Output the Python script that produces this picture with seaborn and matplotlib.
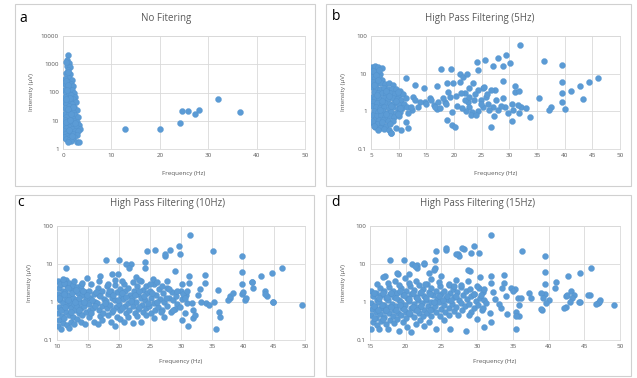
import matplotlib
matplotlib.use("Agg")
import matplotlib.pyplot as plt
import seaborn as sns
import pandas as pd
from matplotlib.patches import Rectangle
from matplotlib.ticker import NullLocator

# (frequency Hz, intensity uV) pairs, one list per panel
a_points = [
    (1.0, 2100), (0.9, 1400), (1.2, 1100), (0.8, 900), (1.4, 800), (1.1, 650), (0.6, 500),
    (1.5, 450), (0.9, 380), (1.3, 330), (0.5, 300), (1.8, 280), (1.0, 240), (0.4, 200),
    (1.6, 200), (2.1, 170), (0.8, 160), (1.3, 130), (0.3, 120), (1.9, 120), (2.3, 100),
    (0.7, 95), (1.2, 85), (1.7, 80), (2.5, 70), (0.4, 70), (2.1, 60), (0.9, 55), (1.4, 50),
    (0.3, 45), (2.6, 45), (1.9, 40), (0.7, 38), (1.2, 32), (2.3, 30), (0.4, 28), (1.6, 26),
    (2.8, 25), (0.9, 22), (2.1, 20), (0.3, 18), (1.3, 17), (2.5, 16), (3.0, 14), (0.7, 14),
    (1.8, 13), (0.4, 11), (1.1, 10), (2.2, 10), (2.9, 9), (0.8, 8.5), (1.5, 8), (3.3, 7),
    (0.3, 7), (2.0, 7), (2.6, 6), (1.2, 6), (0.6, 5.5), (3.6, 5.2), (1.8, 5), (0.2, 4.5),
    (2.4, 4.5), (3.1, 4.2), (1.0, 4.2), (1.5, 3.6), (0.5, 3.5), (2.1, 3.4), (2.8, 3.2),
    (0.9, 3), (1.4, 2.7), (0.3, 2.6), (2.3, 2.6), (1.9, 2.3), (0.7, 2.2), (1.2, 2.0),
    (1.6, 1.9), (1.0, 1.7), (2.9, 1.7), (3.4, 1.7),
    (0.6, 1200), (1.0, 550), (0.6, 250), (1.1, 180), (0.9, 120), (1.5, 65), (0.6, 60),
    (2.0, 30), (1.0, 26), (1.7, 18), (0.6, 9), (2.4, 8), (1.4, 11), (1.9, 3.0), (1.2, 4.8),
    (12.8, 5), (20, 5), (24.2, 8), (24.5, 22), (25.8, 23), (27.2, 17), (28.2, 24),
    (32, 57), (36.5, 21),
]

b_points = [
    # dense block 5-11 Hz
    (5.2, 15), (5.5, 13), (5.8, 16), (6.3, 15), (6.9, 14), (5.3, 10), (6.0, 11), (6.7, 10),
    (5.1, 8), (5.7, 7.5), (6.4, 8), (7.0, 7), (5.4, 6), (6.1, 5.5), (6.8, 5.8), (7.5, 5.2),
    (8.2, 5.5), (9.0, 5), (5.2, 4.5), (5.9, 4.2), (6.6, 4), (7.3, 4.1), (8.0, 4), (8.8, 3.8),
    (9.6, 4), (10.3, 3.5), (5.5, 3.2), (6.2, 3), (7.0, 3.1), (7.7, 2.9), (8.5, 3), (9.3, 2.8),
    (10.0, 2.7), (10.8, 2.8), (5.1, 2.4), (5.8, 2.2), (6.5, 2.3), (7.3, 2.2), (8.1, 2.1),
    (8.9, 2.3), (9.7, 2.1), (10.5, 2.0), (11.3, 2.2), (5.4, 1.8), (6.1, 1.7), (6.9, 1.6),
    (7.6, 1.7), (8.4, 1.6), (9.2, 1.7), (10.0, 1.5), (10.9, 1.6), (5.2, 1.35), (5.9, 1.3),
    (6.7, 1.25), (7.4, 1.3), (8.2, 1.2), (9.0, 1.3), (9.8, 1.15), (10.6, 1.2), (11.5, 1.3),
    (5.5, 1.0), (6.3, 0.95), (7.1, 1.0), (7.9, 0.93), (8.7, 0.98), (9.5, 0.9), (10.3, 0.95),
    (5.2, 0.78), (6.0, 0.75), (6.8, 0.8), (7.6, 0.72), (8.4, 0.76), (9.2, 0.7), (10.0, 0.74),
    (5.6, 0.6), (6.4, 0.58), (7.2, 0.6), (8.0, 0.56), (8.9, 0.55), (5.3, 0.48), (6.1, 0.45),
    (6.9, 0.47), (7.7, 0.42), (5.8, 0.38), (6.6, 0.36), (7.4, 0.34), (8.2, 0.32), (9.5, 0.37),
    (8.6, 0.27), (5.4, 12), (6.5, 12.5), (5.9, 9), (6.2, 6.8), (5.6, 5), (7.8, 3.5), (9.9, 3.2),
    (8.3, 2.5), (6.0, 2.7), (7.0, 1.9), (9.5, 1.9), (10.2, 1.2), (8.6, 1.4), (6.6, 1.1),
    (7.8, 0.85), (9.9, 0.85), (5.1, 0.55), (7.0, 0.52), (8.5, 0.45), (6.3, 0.32), (5.5, 0.4),
    # scattered points
    (32.0, 57), (36.3, 22), (39.5, 16.6), (39.5, 6.1), (39.5, 3.0), (39.5, 1.8), (40.1, 1.15),
    (41.1, 3.5), (42.8, 4.8), (44.4, 5.9), (46.0, 7.9), (43.4, 2.1), (35.4, 2.26), (37.5, 1.3),
    (37.2, 1.09), (33.7, 0.69), (32.1, 1.33), (31.8, 0.89), (30.5, 0.56), (30.1, 19),
    (29.4, 31), (28.0, 26), (28.9, 16), (27.1, 16), (28.9, 6.5), (27.4, 3.7), (31.0, 4.7),
    (31.0, 3.3), (31.8, 3.5), (28.9, 2.2), (30.4, 1.6), (30.7, 1.1), (29.8, 0.89), (26.6, 0.39),
    (11.4, 7.5), (13.0, 5.0), (14.6, 4.1), (17.7, 13), (19.5, 13), (16.9, 4.7), (18.7, 5.8),
    (19.9, 5.5), (21.1, 10), (21.6, 8.3), (22.3, 10), (24.1, 21), (24.4, 12.5), (25.6, 23),
    (15.7, 2.2), (16.3, 1.5), (16.9, 1.13), (18.4, 1.8), (19.6, 0.97), (18.7, 0.59),
    (19.6, 0.43), (20.2, 0.39), (22.0, 3.0), (22.6, 1.8), (23.2, 0.97), (25.3, 4.1),
    (14.8, 1.8), (13.9, 1.8), (12.6, 2.4), (12.4, 1.1), (11.3, 0.52), (11.6, 0.37),
    (10.5, 0.32), (8.6, 0.26), (21.0, 6.1), (21.3, 3.0), (21.9, 2.0), (22.8, 4.1), (22.8, 2.4),
    (23.4, 5.5), (23.7, 2.0), (24.3, 3.7), (24.9, 2.0), (25.5, 4.5), (25.8, 2.4), (26.1, 1.6),
    (26.7, 3.7), (27.0, 1.3), (22.8, 1.3), (22.2, 1.0), (23.1, 0.8), (24.3, 1.0), (25.2, 1.3),
    (26.4, 1.1), (27.9, 1.1), (29.2, 1.3), (19.2, 2.4), (18.6, 1.6), (18.0, 2.2), (17.1, 1.8),
    (16.5, 1.3), (15.9, 2.0), (15.0, 1.6), (13.5, 1.3), (12.9, 2.0), (12.2, 1.3), (11.6, 0.9),
    (17.5, 1.2), (20.5, 1.4), (21.5, 1.2), (23.8, 2.8), (24.8, 1.6), (26.0, 2.8), (27.5, 2.0),
    (28.5, 1.4), (20.3, 2.5), (19.0, 3.2), (24.0, 0.8), (27.3, 0.75), (31.5, 1.5), (33.0, 1.2),
]

c_points = [
    # dense band 10-31 Hz
    (10.2, 3.5), (10.4, 2.4), (10.1, 1.6), (10.5, 1.1), (10.3, 0.75), (10.1, 0.5), (10.4, 0.33),
    (10.2, 0.24), (10.8, 3.0), (11.0, 2.0), (10.7, 1.4), (10.9, 0.95), (11.1, 0.65),
    (10.8, 0.42), (11.0, 0.28), (10.7, 0.2), (11.4, 3.8), (11.6, 2.6), (11.3, 1.8), (11.5, 1.2),
    (11.7, 0.85), (11.4, 0.55), (11.2, 0.37), (11.6, 0.25), (12.0, 3.2), (12.2, 2.2),
    (11.9, 1.5), (12.1, 1.0), (12.3, 0.7), (12.0, 0.46), (12.2, 0.3), (11.9, 0.21), (12.6, 2.8),
    (12.8, 1.9), (12.5, 1.3), (12.7, 0.9), (12.9, 0.6), (12.6, 0.4), (12.8, 0.27), (13.2, 2.5),
    (13.4, 1.7), (13.1, 1.15), (13.3, 0.8), (13.5, 0.52), (13.2, 0.35), (13.8, 2.2), (14.0, 1.5),
    (13.7, 1.0), (13.9, 0.68), (14.1, 0.45), (13.8, 0.3), (14.5, 1.8), (14.7, 1.2), (14.4, 0.8),
    (14.6, 0.55), (14.5, 0.26), (15.2, 2.0), (15.4, 1.3), (15.1, 0.9), (15.3, 0.6), (15.2, 0.4),
    (15.9, 1.6), (16.1, 1.0), (15.8, 0.7), (16.0, 0.3), (16.6, 2.4), (16.8, 1.5), (16.5, 0.95),
    (16.7, 0.62), (16.9, 0.42), (16.6, 0.26), (17.3, 1.9), (17.5, 1.2), (17.2, 0.8), (17.4, 0.5),
    (17.3, 0.33), (18.0, 2.6), (18.2, 1.6), (17.9, 1.05), (18.1, 0.7), (18.3, 0.45), (18.7, 2.0),
    (18.9, 1.3), (18.6, 0.85), (18.8, 0.55), (18.7, 0.3), (19.4, 2.8), (19.6, 1.8), (19.3, 1.1),
    (19.5, 0.72), (19.7, 0.4), (19.4, 0.24), (20.1, 2.2), (20.3, 1.4), (20.0, 0.9), (20.2, 0.6),
    (20.1, 0.35), (20.8, 3.0), (21.0, 1.9), (20.7, 1.2), (20.9, 0.78), (21.1, 0.5), (20.8, 0.3),
    (21.5, 2.4), (21.7, 1.5), (21.4, 0.95), (21.6, 0.62), (21.5, 0.4), (22.2, 3.3), (22.4, 2.0),
    (22.1, 1.25), (22.3, 0.8), (22.5, 0.5), (22.2, 0.28), (22.9, 2.6), (23.1, 1.6), (22.8, 1.0),
    (23.0, 0.65), (22.9, 0.42), (23.6, 3.5), (23.8, 2.1), (23.5, 1.3), (23.7, 0.85), (23.9, 0.55),
    (23.6, 0.3), (24.3, 2.7), (24.5, 1.7), (24.2, 1.1), (24.4, 0.7), (24.3, 0.45), (25.0, 2.0),
    (25.2, 1.3), (24.9, 0.8), (25.1, 0.5), (25.7, 2.9), (25.9, 1.5), (25.6, 0.95), (25.8, 0.6),
    (25.7, 0.38), (26.4, 2.2), (26.6, 1.2), (26.3, 0.75), (27.1, 1.7), (27.3, 1.0), (27.0, 0.62),
    (27.2, 0.4), (27.8, 2.4), (28.0, 1.3), (27.7, 0.8), (28.5, 1.8), (28.7, 1.1), (28.4, 0.55),
    (29.2, 1.4), (29.4, 0.9), (29.1, 0.65), (30.0, 2.0), (30.2, 1.2), (29.9, 0.75), (30.8, 1.5),
    (31.0, 0.95), (30.7, 0.5),
    # extra fill in the densest part
    (10.5, 2.9), (10.3, 1.3), (10.6, 0.6), (11.2, 3.2), (11.1, 1.6), (11.3, 0.72), (11.8, 2.4),
    (11.7, 1.1), (12.4, 1.7), (12.3, 0.55), (13.0, 2.1), (12.9, 1.0), (13.6, 1.3), (13.5, 0.62),
    (14.2, 2.0), (14.3, 1.0), (14.9, 1.5), (15.6, 1.15), (15.5, 0.5), (16.3, 1.8), (16.2, 0.8),
    (17.0, 1.4), (17.7, 0.95), (18.4, 1.9), (19.1, 1.5), (19.0, 0.62), (19.9, 1.1), (20.5, 1.7),
    (20.5, 0.7), (21.2, 1.35), (21.9, 1.05), (22.6, 1.5), (23.3, 1.9), (23.3, 0.75), (24.0, 1.4),
    (24.7, 0.95), (25.4, 1.7), (26.1, 1.0), (26.8, 0.55), (27.5, 1.3),
    # scattered points
    (31.5, 57), (35.1, 22), (39.8, 16), (39.8, 6.2), (39.8, 2.9), (39.8, 1.6), (40.4, 1.15),
    (41.4, 3.4), (42.9, 4.7), (44.7, 5.8), (46.3, 7.9), (44.9, 1.03), (49.5, 0.84), (43.5, 2.0),
    (43.8, 1.4), (37.9, 1.25), (37.6, 1.1), (36.3, 0.41), (35.6, 0.19), (35.4, 1.03), (34.1, 0.95),
    (33.8, 5.0), (33.8, 3.2), (31.3, 4.7), (31.3, 3.2), (29.8, 17.8), (29.6, 30), (28.3, 24),
    (27.4, 16), (27.4, 18), (25.8, 24), (24.5, 22), (29.0, 6.5), (27.7, 3.5), (30.1, 2.9),
    (30.3, 1.6), (31.7, 0.94), (32.0, 0.38), (31.2, 0.23), (30.1, 0.34), (28.7, 0.62), (25.5, 4.1),
    (24.2, 7.9), (24.2, 11), (22.0, 10), (21.2, 10), (21.6, 7.9), (20.0, 13), (17.9, 13),
    (17.0, 4.7), (18.8, 5.3), (19.8, 5.3), (14.8, 4.2), (11.5, 7.9), (13.9, 2.8),
    (30.6, 1.3), (30.9, 2.0), (32.8, 1.5), (33.3, 1.0), (34.5, 0.85), (31.9, 0.61), (32.2, 0.45),
    (33.0, 2.2), (36.0, 2.1), (36.2, 0.55), (37.9, 1.4), (38.4, 1.7), (40.5, 1.3), (40.0, 1.8),
    (41.5, 3.3), (41.6, 2.3), (43.6, 1.6), (44.8, 1.0), (15.5, 3.0), (16.7, 3.5), (18.2, 3.0),
    (19.3, 3.9), (20.5, 3.6), (22.8, 4.5), (23.3, 3.8), (25.0, 2.9), (26.2, 3.3), (27.0, 2.6),
    (28.0, 2.2), (29.3, 1.9), (12.8, 3.5), (11.0, 4.0), (14.0, 3.1),
]

d_points = [
    # dense band 15-31 Hz
    (15.2, 2.0), (15.4, 1.4), (15.1, 0.95), (15.3, 0.65), (15.2, 0.45), (15.4, 0.3), (15.1, 0.2),
    (15.8, 1.7), (16.0, 1.15), (15.7, 0.8), (15.9, 0.55), (15.8, 0.37), (16.0, 0.25),
    (16.4, 2.3), (16.6, 1.5), (16.3, 1.0), (16.5, 0.7), (16.4, 0.48), (16.6, 0.32), (16.3, 0.19),
    (17.0, 1.9), (17.2, 1.25), (16.9, 0.85), (17.1, 0.58), (17.0, 0.4), (17.2, 0.27),
    (17.6, 2.5), (17.8, 1.6), (17.5, 1.1), (17.7, 0.75), (17.6, 0.5), (17.8, 0.34), (17.5, 0.2),
    (18.2, 2.0), (18.4, 1.35), (18.1, 0.9), (18.3, 0.62), (18.2, 0.42), (18.4, 0.28),
    (18.8, 1.7), (19.0, 1.15), (18.7, 0.78), (18.9, 0.52), (18.8, 0.35), (19.0, 0.17),
    (19.4, 2.4), (19.6, 1.5), (19.3, 1.0), (19.5, 0.68), (19.4, 0.45), (19.6, 0.3),
    (20.0, 1.9), (20.2, 1.25), (19.9, 0.85), (20.1, 0.56), (20.0, 0.38), (20.2, 0.22),
    (20.6, 2.6), (20.8, 1.6), (20.5, 1.05), (20.7, 0.7), (20.6, 0.47), (20.8, 0.16),
    (21.2, 2.1), (21.4, 1.35), (21.1, 0.9), (21.3, 0.6), (21.2, 0.4), (21.4, 0.27),
    (21.8, 2.8), (22.0, 1.7), (21.7, 1.1), (21.9, 0.74), (21.8, 0.5), (22.0, 0.33),
    (22.4, 2.2), (22.6, 1.4), (22.3, 0.92), (22.5, 0.62), (22.4, 0.42), (22.6, 0.24),
    (23.0, 3.0), (23.2, 1.8), (22.9, 1.15), (23.1, 0.78), (23.0, 0.52), (23.2, 0.3),
    (23.6, 2.4), (23.8, 1.5), (23.5, 0.98), (23.7, 0.66), (23.6, 0.44), (24.2, 1.9), (24.4, 1.2),
    (24.1, 0.8), (24.3, 0.55), (24.2, 0.2), (24.8, 2.6), (25.0, 1.6), (24.7, 1.0), (24.9, 0.66),
    (24.8, 0.42), (25.4, 2.0), (25.6, 1.3), (25.3, 0.85), (25.5, 0.55), (25.4, 0.33),
    (26.0, 2.8), (26.2, 1.7), (25.9, 1.1), (26.1, 0.7), (26.0, 0.45), (26.2, 0.2),
    (26.6, 2.2), (26.8, 1.35), (26.5, 0.9), (26.7, 0.58), (27.2, 1.8), (27.4, 1.15), (27.1, 0.75),
    (27.3, 0.45), (27.8, 2.5), (28.0, 1.5), (27.7, 0.95), (27.9, 0.6), (28.4, 2.0), (28.6, 1.2),
    (28.3, 0.8), (28.5, 0.17), (29.0, 2.2), (29.2, 1.4), (28.9, 0.9), (29.1, 0.55),
    (29.6, 1.6), (29.8, 1.05), (29.5, 0.7), (30.2, 2.4), (30.4, 1.3), (30.1, 0.85),
    (30.8, 1.8), (31.0, 1.1), (30.7, 0.6), (30.9, 0.22),
    # extra fill in the densest part
    (15.5, 1.7), (15.6, 0.8), (15.5, 0.38), (16.2, 1.3), (16.1, 0.6), (16.8, 1.7), (16.7, 0.85),
    (16.8, 0.36), (17.4, 1.35), (17.3, 0.62), (18.0, 1.7), (18.0, 0.75), (18.6, 1.3), (18.6, 0.6),
    (19.2, 1.9), (19.2, 0.85), (19.8, 1.5), (19.8, 0.65), (20.4, 1.2), (20.4, 0.5), (21.0, 1.7),
    (21.0, 0.75), (21.6, 1.3), (21.6, 0.6), (22.2, 1.8), (22.2, 0.78), (22.8, 1.3), (23.4, 1.6),
    (23.4, 0.6), (24.0, 1.0), (24.6, 1.4), (25.2, 1.1), (25.8, 1.4), (26.4, 1.1), (27.0, 1.4),
    # scattered points
    (31.9, 57), (36.3, 21.8), (39.5, 16), (39.5, 6.2), (39.5, 3.0), (39.5, 1.6), (40.0, 1.1),
    (41.1, 3.4), (42.7, 4.7), (44.4, 5.8), (46.0, 7.9), (44.4, 1.0), (49.1, 0.84), (45.8, 1.5),
    (46.9, 0.95), (47.2, 1.1), (42.4, 0.72), (42.5, 1.4), (43.2, 2.0), (43.6, 1.5), (39.1, 0.6),
    (35.5, 0.2), (35.9, 0.44), (35.7, 1.25), (35.3, 2.2), (33.7, 5.0), (33.7, 3.2), (32.0, 4.7),
    (32.0, 3.2), (31.3, 0.94), (30.2, 19), (29.5, 30), (28.1, 25), (27.3, 18), (27.4, 16),
    (25.7, 24), (24.3, 22), (24.1, 13), (24.1, 7.9), (29.0, 6.5), (27.1, 3.8), (22.5, 10),
    (21.6, 9.5), (20.9, 10), (21.6, 7.9), (19.8, 13), (17.8, 13), (17.1, 4.7), (18.9, 5.3),
    (18.5, 3.5), (19.9, 4.3), (23.2, 5.8), (25.0, 4.7), (34.8, 2.3), (35.0, 2.0), (37.3, 1.7),
    (37.5, 1.25), (38.9, 1.7), (39.2, 1.25), (39.7, 0.95), (39.0, 0.64), (36.1, 1.25),
    (35.9, 0.84), (35.5, 0.55), (35.4, 0.43), (34.2, 0.47), (33.3, 0.68), (40.9, 2.3),
    (42.6, 1.55), (43.3, 1.25), (44.2, 1.0), (45.5, 1.55), (42.2, 0.68), (43.0, 1.0), (47.0, 1.0),
    (46.7, 0.86), (30.5, 1.5), (31.0, 2.2), (32.5, 1.2), (33.0, 0.9), (32.2, 1.8), (34.0, 1.4),
    (30.8, 0.7), (31.8, 0.5), (33.5, 2.3), (29.5, 1.6), (28.8, 0.45), (30.0, 0.35), (32.0, 0.3),
    (16.0, 2.9), (17.5, 3.1), (19.0, 2.8), (20.5, 3.2), (21.5, 3.6), (22.7, 3.0), (23.5, 4.0),
    (24.6, 3.3), (26.0, 3.0), (26.8, 2.6), (27.8, 2.8), (28.7, 3.5), (30.0, 2.6), (16.8, 4.6),
    (18.8, 5.8), (20.5, 5.5), (21.3, 9.0), (22.6, 10.5), (24.0, 6.9), (25.6, 26), (27.0, 18.5),
    (27.9, 27), (29.2, 19), (28.7, 6.9), (30.4, 4.6),
]

titles = ["No Fitering", "High Pass Filtering (5Hz)",
          "High Pass Filtering (10Hz)", "High Pass Filtering (15Hz)"]
letters = ["a", "b", "c", "d"]
x_ticks = [[0, 10, 20, 30, 40, 50],
           [5, 10, 15, 20, 25, 30, 35, 40, 45, 50],
           [10, 15, 20, 25, 30, 35, 40, 45, 50],
           [15, 20, 25, 30, 35, 40, 45, 50]]
y_ticks = [[1, 10, 100, 1000, 10000],
           [0.1, 1, 10, 100], [0.1, 1, 10, 100], [0.1, 1, 10, 100]]
y_tick_labels = [["1", "10", "100", "1000", "10000"],
                 ["0.1", "1", "10", "100"], ["0.1", "1", "10", "100"], ["0.1", "1", "10", "100"]]

W, H = 637, 378
BLUE = "#5B9BD5"
GREY_TXT = "#595959"
GRID = "#D9D9D9"

sns.set_theme(style="whitegrid")
plt.rcParams['font.family'] = ['Open Sans', 'DejaVu Sans']

fig = plt.figure(figsize=(W / 100, H / 100), dpi=100)

# panel frames, axes boxes (pixels: left, top, right, bottom)
frames = [(15, 4, 315, 186), (326, 4, 631, 186), (15, 195, 314, 376), (326, 195, 631, 376)]
boxes = [(63, 36, 305, 149), (371, 36, 620, 149), (57, 226, 305, 340), (370, 226, 620, 340)]
title_pos = [(166, 19), (480, 18), (168, 203), (478, 203)]
letter_pos = [(23, 18), (336, 16), (21, 202), (336, 202)]
ylabel_x = [32, 343, 29, 343]
xlabel_y = [173, 173, 361, 361]

for i, pts in enumerate([a_points, b_points, c_points, d_points]):
    fl, ft, fr, fb = frames[i]
    fig.patches.append(Rectangle((fl / W, 1 - fb / H), (fr - fl) / W, (fb - ft) / H,
                                 transform=fig.transFigure, fill=False,
                                 edgecolor="#D0D0D0", linewidth=0.8))
    l, t, r, b = boxes[i]
    ax = fig.add_axes([l / W, 1 - b / H, (r - l) / W, (b - t) / H])
    df = pd.DataFrame(pts, columns=["freq", "intensity"])
    sns.scatterplot(data=df, x="freq", y="intensity", ax=ax, s=19, color=BLUE,
                    edgecolor="#4F8FCB", linewidth=0.2, zorder=3)
    ax.set_yscale("log")
    ax.set_xlim(x_ticks[i][0], x_ticks[i][-1])
    ax.set_ylim(y_ticks[i][0], y_ticks[i][-1])
    ax.set_xticks(x_ticks[i])
    ax.set_yticks(y_ticks[i])
    ax.set_yticklabels(y_tick_labels[i])
    ax.yaxis.set_minor_locator(NullLocator())
    ax.grid(True, which="major", color=GRID, linewidth=0.6)
    ax.set_xlabel("")
    ax.set_ylabel("")
    ax.tick_params(labelsize=4.5, colors=GREY_TXT, length=0, pad=3)
    for sp in ax.spines.values():
        sp.set_color(GRID)
        sp.set_linewidth(0.6)
    ax.set_facecolor("white")

    tx, ty = title_pos[i]
    fig.text(tx / W, 1 - ty / H, titles[i], ha="center", va="center",
             fontsize=7, color=GREY_TXT)
    lx, ly = letter_pos[i]
    fig.text(lx / W, 1 - ly / H, letters[i], ha="center", va="center",
             fontsize=10, color="black")
    fig.text(ylabel_x[i] / W, 1 - ((t + b) / 2) / H, "Intensity (\u00b5V)", rotation=90,
             ha="center", va="center", fontsize=4.5, color=GREY_TXT)
    fig.text(((l + r) / 2) / W, 1 - xlabel_y[i] / H, "Frequency (Hz)",
             ha="center", va="center", fontsize=4.5, color=GREY_TXT)

fig.savefig("out.png", dpi=100, facecolor="white")
